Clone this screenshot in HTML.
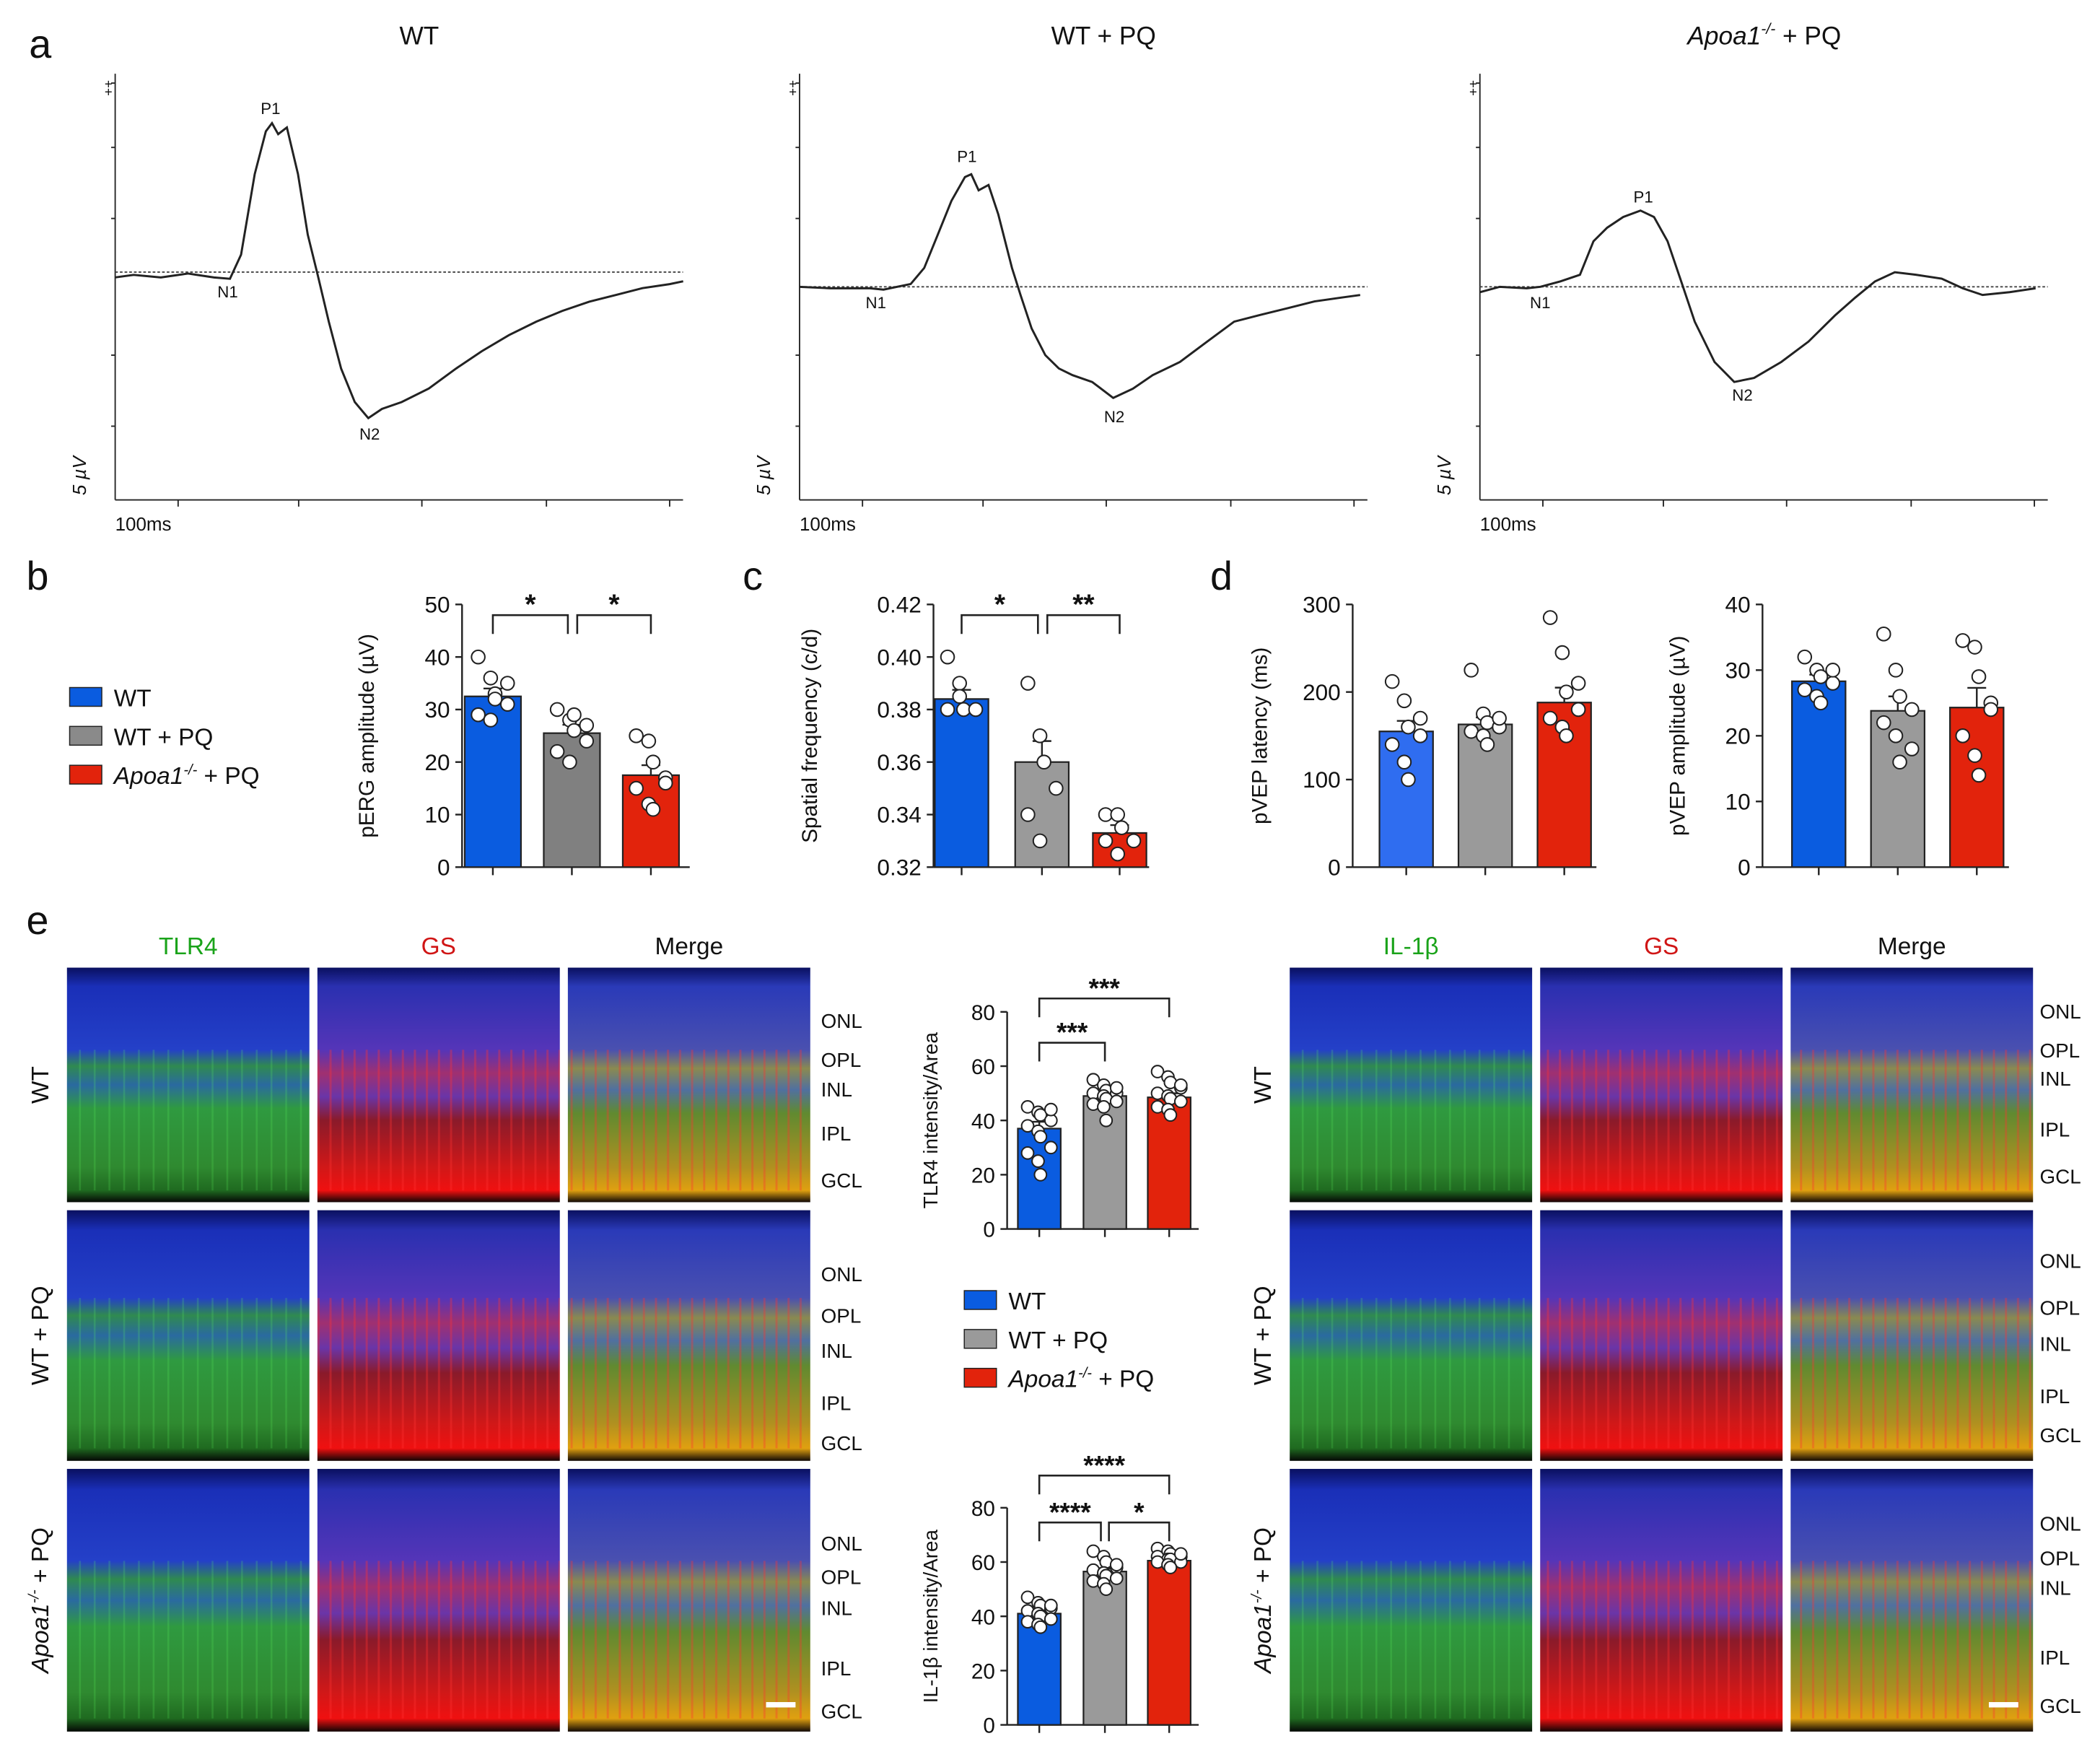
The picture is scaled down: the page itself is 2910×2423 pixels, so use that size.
<!DOCTYPE html>
<html><head><meta charset="utf-8"><style>
html,body{margin:0;padding:0;background:#fff}
svg{display:block}
text{font-family:"Liberation Sans",Arial,sans-serif;fill:#111}
</style></head><body>
<svg id="fig" width="2910" height="2423" viewBox="0 0 1568 1305" preserveAspectRatio="none" xmlns="http://www.w3.org/2000/svg">
<defs>
<linearGradient id="gTLR" x1="0" y1="0" x2="0" y2="1">
<stop offset="0" stop-color="#0a1060"/><stop offset="0.08" stop-color="#1a2fb8"/><stop offset="0.35" stop-color="#2440c8"/>
<stop offset="0.42" stop-color="#2f8a50"/><stop offset="0.5" stop-color="#2a6aa0"/><stop offset="0.6" stop-color="#2f9a40"/>
<stop offset="0.85" stop-color="#2f8a30"/><stop offset="0.95" stop-color="#1f6a20"/><stop offset="1" stop-color="#050805"/></linearGradient>
<linearGradient id="gGS" x1="0" y1="0" x2="0" y2="1">
<stop offset="0" stop-color="#0a1060"/><stop offset="0.08" stop-color="#2a30b0"/><stop offset="0.35" stop-color="#5535b8"/>
<stop offset="0.45" stop-color="#a03070"/><stop offset="0.55" stop-color="#6a35a8"/><stop offset="0.65" stop-color="#8a1a2a"/>
<stop offset="0.85" stop-color="#d01818"/><stop offset="0.95" stop-color="#f01010"/><stop offset="1" stop-color="#100505"/></linearGradient>
<linearGradient id="gMG" x1="0" y1="0" x2="0" y2="1">
<stop offset="0" stop-color="#0a1060"/><stop offset="0.08" stop-color="#2a3ab8"/><stop offset="0.35" stop-color="#4a50b0"/>
<stop offset="0.43" stop-color="#8a8a50"/><stop offset="0.52" stop-color="#5070a0"/><stop offset="0.62" stop-color="#608a30"/>
<stop offset="0.85" stop-color="#b09020"/><stop offset="0.95" stop-color="#e0a010"/><stop offset="1" stop-color="#100805"/></linearGradient>
<pattern id="streak" width="9" height="40" patternUnits="userSpaceOnUse"><rect x="3" width="1.6" height="40" fill="#ff3030" opacity="0.35"/></pattern>
<pattern id="streakG" width="11" height="40" patternUnits="userSpaceOnUse"><rect x="4" width="1.4" height="40" fill="#60ff60" opacity="0.18"/></pattern>
</defs>
<g id="root"></g>
</svg>
<script>
// ---------- DATA ----------
const traceT_WT=[0,15,37,59,80,93,102,113,122,127,132,139,148,156,164,173,183,194,205,216,232,254,276,297,319,341,362,384,406,427,449,460];
const traceV_WT=[-0.19,-0.1,-0.19,-0.05,-0.19,-0.24,0.62,3.48,5.0,5.29,4.9,5.14,3.48,1.33,-0.1,-1.76,-3.43,-4.62,-5.19,-4.86,-4.62,-4.14,-3.43,-2.81,-2.24,-1.76,-1.38,-1.05,-0.81,-0.57,-0.43,-0.33];
const traceT_PQ=[0,25,57,68,90,101,112,123,134,139,145,153,161,172,179,188,199,210,221,237,254,270,286,308,330,352,373,395,417,439,454];
const traceV_PQ=[0,-0.05,-0.05,-0.1,0.1,0.67,1.86,3.05,3.9,4.0,3.43,3.62,2.57,0.67,-0.29,-1.48,-2.43,-2.9,-3.14,-3.38,-3.95,-3.62,-3.14,-2.67,-1.95,-1.24,-1.0,-0.76,-0.52,-0.38,-0.29];
const traceT_AP=[0,16,38,49,65,81,92,103,116,130,141,152,163,174,190,206,222,244,266,288,304,320,336,353,374,391,407,429,450];
const traceV_AP=[-0.19,0,-0.05,0,0.19,0.43,1.62,2.1,2.48,2.71,2.48,1.62,0.19,-1.24,-2.67,-3.38,-3.24,-2.67,-1.95,-1.0,-0.38,0.19,0.52,0.43,0.29,-0.05,-0.29,-0.19,-0.05];

const groups=["WT","WT + PQ","Apoa1 + PQ"];
const pergMeans=[32.5,25.5,17.5], pergErr=[1.5,1.6,1.9];
const pergPts=[[40,36,33,31,29,28,32,35],[30,28,26,24,22,20,29,27],[25,24,20,17,15,12,11,16]];
const sfMeans=[0.384,0.360,0.333], sfErr=[0.0035,0.008,0.003];
const sfPts=[[0.40,0.39,0.38,0.38,0.38,0.385],[0.39,0.37,0.36,0.35,0.34,0.33],[0.34,0.34,0.335,0.33,0.33,0.325]];
const latMeans=[155,163,188], latErr=[12,8,17];
const latPts=[[212,190,160,150,140,120,100,170],[225,175,165,160,155,150,140,170],[285,245,200,180,170,160,150,210]];
const ampMeans=[28.3,23.8,24.3], ampErr=[1,2.2,3];
const ampPts=[[32,30,29,28,27,26,25,30],[35.5,30,26,24,22,20,16,18],[34.5,33.5,29,25,20,17,14,24]];
const tlrMeans=[37,49,48.5], tlrErr=[2.5,1.5,1.5];
const tlrPts=[[45,43,42,40,38,36,34,30,28,25,20,44],[55,53,51,50,50,49,48,47,46,45,40,52],[58,56,54,52,50,49,48,47,45,44,42,53]];
const ilMeans=[41,56.5,60.5], ilErr=[1,1.2,0.8];
const ilPts=[[47,45,44,43,42,41,40,39,38,37,36,44],[64,62,60,58,57,56,55,54,53,52,50,59],[65,64,63,62,62,61,61,60,60,59,58,63]];

// ---------- helpers ----------
const NS="http://www.w3.org/2000/svg";
const root=document.getElementById('root');
function el(tag,attrs,parent){const e=document.createElementNS(NS,tag);for(const k in attrs)e.setAttribute(k,attrs[k]);(parent||root).appendChild(e);return e;}
function txt(x,y,s,size,anchor,parent,extra){const t=el('text',Object.assign({x:x,y:y,'font-size':size,'text-anchor':anchor||'middle'},extra||{}),parent);t.textContent=s;return t;}
function apoa(x,y,size,anchor,parent){const t=el('text',{x:x,y:y,'font-size':size,'text-anchor':anchor||'start'},parent);
 const a=el('tspan',{'font-style':'italic'},t);a.textContent='Apoa1';const s=el('tspan',{'font-size':size*0.6,dy:-size*0.4,'font-style':'italic'},t);s.textContent='-/-';
 const b=el('tspan',{dy:size*0.4},t);b.textContent=' + PQ';return t;}

[['a',30,43],['b',28,440],['c',562,440],['d',912,440],['e',28,697]].forEach(p=>{const t=txt(p[1],p[2],p[0],30,'middle');});

// ---------- Panel a traces ----------
function trace(ax,base,T,V,title,isApoa,p1,n1,n2,name){
 const g=el('g',{});
 const sx=t=>ax+t*0.922, sy=v=>base-v*21;
 el('line',{x1:ax,y1:55,x2:ax,y2:373,stroke:'#222','stroke-width':1},g);
 el('line',{x1:ax,y1:373,x2:ax+424,y2:373,stroke:'#222','stroke-width':1},g);
 [62,110,163,265,318].forEach(y=>el('line',{x1:ax,y1:y,x2:ax-3,y2:y,stroke:'#222'},g));
 [47,137,229,322,414].forEach(d=>el('line',{x1:ax+d,y1:373,x2:ax+d,y2:378,stroke:'#222'},g));
 txt(ax-5,66,'+',10,'middle',g);txt(ax-5,72,'+',10,'middle',g);
 const yl=txt(0,0,'5 µV',14,'middle',g,{'font-style':'italic'});yl.setAttribute('transform',`translate(${ax-22},355) rotate(-90)`);
 txt(ax,396,'100ms',14,'start',g);
 el('line',{x1:ax,y1:base,x2:ax+424,y2:base,stroke:'#444','stroke-width':1,'stroke-dasharray':'2,1.5'},g);
 let d='';T.forEach((t,i)=>{d+=(i?'L':'M')+sx(t).toFixed(1)+','+sy(V[i]).toFixed(1);});
 el('path',{d:d,fill:'none',stroke:'#222','stroke-width':1.6},g);
 if(isApoa) apoa(ax+155,33,19,'start',g); else txt(ax+227,33,title,19,'middle',g);
 txt(p1[0],p1[1],'P1',12,'middle',g);txt(n1[0],n1[1],'N1',12,'middle',g);txt(n2[0],n2[1],'N2',12,'middle',g);
}
trace(86,203,traceT_WT,traceV_WT,'WT',false,[202,85],[170,222],[276,328],'erg-trace-wt');
trace(597,214,traceT_PQ,traceV_PQ,'WT + PQ',false,[722,121],[654,230],[832,315],'erg-trace-wt-pq');
trace(1105,214,traceT_AP,traceV_AP,'',true,[1227,151],[1150,230],[1301,299],'erg-trace-apoa1-pq');

// ---------- bar charts ----------
const COLS=['#0a5ce0','#8a8a8a','#e2230c'];
function bars(o){
 const g=el('g',{});
 const sy=v=>o.y1-(v-o.min)/(o.max-o.min)*(o.y1-o.y0);
 el('line',{x1:o.ax,y1:o.y0,x2:o.ax,y2:o.y1,stroke:'#222','stroke-width':1.3},g);
 el('line',{x1:o.ax,y1:o.y1,x2:o.xend,y2:o.y1,stroke:'#222','stroke-width':1.3},g);
 o.ticks.forEach((t,i)=>{const y=sy(t);el('line',{x1:o.ax,y1:y,x2:o.ax-5,y2:y,stroke:'#222','stroke-width':1.3},g);txt(o.ax-9,y+6,o.tickLabels[i],o.fs,'end',g);});
 const yl=txt(0,0,o.ylabel,o.fs-1,'middle',g);yl.setAttribute('transform',`translate(${o.ax-o.ylOff},${(o.y0+o.y1)/2}) rotate(-90)`);
 o.means.forEach((m,i)=>{
  const cx=o.cx[i],w=o.w;
  el('line',{x1:cx,y1:o.y1,x2:cx,y2:o.y1+6,stroke:'#222','stroke-width':1.3},g);
  const r=el('rect',{x:cx-w/2,y:sy(m),width:w,height:o.y1-sy(m),fill:o.cols[i],stroke:'#222','stroke-width':1.2},g);
  
  
  const e1=sy(m+o.err[i]);el('line',{x1:cx,y1:sy(m),x2:cx,y2:e1,stroke:'#222','stroke-width':1.3},g);el('line',{x1:cx-7,y1:e1,x2:cx+7,y2:e1,stroke:'#222','stroke-width':1.3},g);
  o.pts[i].forEach((p,j)=>{const off=((j%4)-1.5)*o.w*0.15+(j%2?1.5:-1.5);
   el('circle',{cx:cx+off,cy:sy(p),r:o.r,fill:'#fff',stroke:'#222','stroke-width':1.1},g);});
 });
 (o.sig||[]).forEach(s=>{const a=o.cx[s[0]]+(s[3]||0),b=o.cx[s[1]]-(s[4]||0),y=s[2];
  el('path',{d:`M${a},${y+14}V${y}H${b}V${y+14}`,fill:'none',stroke:'#222','stroke-width':1.4},g);
  txt((a+b)/2,y-1,s[5],o.fs+4,'middle',g,{'font-weight':'bold'});});
}
bars({name:'chart-perg-amplitude',ax:345,y0:451,y1:647,min:0,max:50,xend:515,ticks:[0,10,20,30,40,50],tickLabels:['0','10','20','30','40','50'],
 ylabel:'pERG amplitude  (µV)',ylOff:66,fs:17,cx:[368,427,486],w:42,means:pergMeans,err:pergErr,pts:pergPts,cols:['#0a5ce0','#808080','#e2230c'],r:5,
 sig:[[0,1,459,0,3,'*'],[1,2,459,4,0,'*']]});
bars({name:'chart-spatial-frequency',ax:697,y0:451,y1:647,min:0.32,max:0.42,xend:858,ticks:[0.32,0.34,0.36,0.38,0.40,0.42],tickLabels:['0.32','0.34','0.36','0.38','0.40','0.42'],
 ylabel:'Spatial frequency (c/d)',ylOff:87,fs:17,cx:[718,778,836],w:40,means:sfMeans,err:sfErr,pts:sfPts,cols:['#0a5ce0','#9a9a9a','#e2230c'],r:5,
 sig:[[0,1,459,0,3,'*'],[1,2,459,4,0,'**']]});
bars({name:'chart-pvep-latency',ax:1010,y0:451,y1:647,min:0,max:300,xend:1192,ticks:[0,100,200,300],tickLabels:['0','100','200','300'],
 ylabel:'pVEP latency (ms)',ylOff:64,fs:17,cx:[1050,1109,1168],w:40,means:latMeans,err:latErr,pts:latPts,cols:['#2f6df0','#9a9a9a','#e2230c'],r:5});
bars({name:'chart-pvep-amplitude',ax:1316,y0:451,y1:647,min:0,max:40,xend:1500,ticks:[0,10,20,30,40],tickLabels:['0','10','20','30','40'],
 ylabel:'pVEP amplitude  (µV)',ylOff:58,fs:17,cx:[1358,1417,1476],w:40,means:ampMeans,err:ampErr,pts:ampPts,cols:['#0a5ce0','#9a9a9a','#e2230c'],r:5});
bars({name:'chart-tlr4-intensity',ax:752,y0:755,y1:917,min:0,max:80,xend:895,ticks:[0,20,40,60,80],tickLabels:['0','20','40','60','80'],
 ylabel:'TLR4 intensity/Area',ylOff:52,fs:16,cx:[776,825,873],w:32,means:tlrMeans,err:tlrErr,pts:tlrPts,cols:COLS.map((c,i)=>i==1?'#9a9a9a':c),r:4.5,
 sig:[[0,1,778,0,0,'***'],[0,2,745,0,0,'***']]});
bars({name:'chart-il1b-intensity',ax:752,y0:1125,y1:1287,min:0,max:80,xend:895,ticks:[0,20,40,60,80],tickLabels:['0','20','40','60','80'],
 ylabel:'IL-1β intensity/Area',ylOff:52,fs:16,cx:[776,825,873],w:32,means:ilMeans,err:ilErr,pts:ilPts,cols:COLS.map((c,i)=>i==1?'#9a9a9a':c),r:4.5,
 sig:[[0,2,1101,0,0,'****'],[0,1,1136,0,3,'****'],[1,2,1136,3,0,'*']]});

function legend(x,y0,dy,name,gray){const g=el('g',{});
 ['#0a5ce0',gray,'#e2230c'].forEach((c,i)=>{const y=y0+i*dy;el('rect',{x:x,y:y-8,width:24,height:14,fill:c,stroke:'#222','stroke-width':0.8},g);
  if(i==2)apoa(x+33,y+6,18,'start',g);else txt(x+33,y+6,groups[i],18,'start',g);});}
legend(52,521,29,'legend-b','#8a8a8a');
legend(720,971,29,'legend-e','#9a9a9a');

// ---------- micrographs ----------
function micro(x0,titles,rowsY,layerX,layers,name){
 const g=el('g',{});
 const colX=[x0,x0+187,x0+374],w=181;
 const grads=['url(#gTLR)','url(#gGS)','url(#gMG)'];
 titles.forEach((t,i)=>txt(colX[i]+w/2,712,t[0],18,'middle',g,{style:'fill:'+t[1]}));
 rowsY.forEach((r,ri)=>{colX.forEach((cx,ci)=>{
  el('rect',{x:cx,y:r[0],width:w,height:r[1]-r[0],fill:grads[ci]},g);
  el('rect',{x:cx,y:r[0]+(r[1]-r[0])*0.35,width:w,height:(r[1]-r[0])*0.6,fill:ci==0?'url(#streakG)':'url(#streak)'},g);
 });
  layers[ri].forEach(l=>txt(layerX,l[1],l[0],15,'start',g));
 });
 rowsY.forEach((r,ri)=>{const cy=(r[0]+r[1])/2;
  if(ri<2){const t=txt(0,0,ri==0?'WT':'WT + PQ',18,'middle',g);t.setAttribute('transform',`translate(${x0-14},${cy}) rotate(-90)`);}
  else{const t=apoa(0,0,18,'middle',g);t.setAttribute('transform',`translate(${x0-14},${cy}) rotate(-90)`);}
 });
 el('rect',{x:colX[2]+w-33,y:rowsY[2][1]-22,width:22,height:4,fill:'#fff'},g);
}
micro(50,[['TLR4','#1aa31a'],['GS','#d01515'],['Merge','#111']],[[722,897],[903,1090],[1096,1292]],613,
 [[['ONL',767],['OPL',796],['INL',818],['IPL',851],['GCL',886]],[['ONL',956],['OPL',987],['INL',1013],['IPL',1052],['GCL',1082]],[['ONL',1157],['OPL',1182],['INL',1205],['IPL',1250],['GCL',1282]]],'micrographs-tlr4');
micro(963,[['IL-1β','#1aa31a'],['GS','#d01515'],['Merge','#111']],[[722,897],[903,1090],[1096,1292]],1523,
 [[['ONL',760],['OPL',789],['INL',810],['IPL',848],['GCL',883]],[['ONL',946],['OPL',981],['INL',1008],['IPL',1047],['GCL',1076]],[['ONL',1142],['OPL',1168],['INL',1190],['IPL',1242],['GCL',1278]]],'micrographs-il1b');
</script>
</body></html>
